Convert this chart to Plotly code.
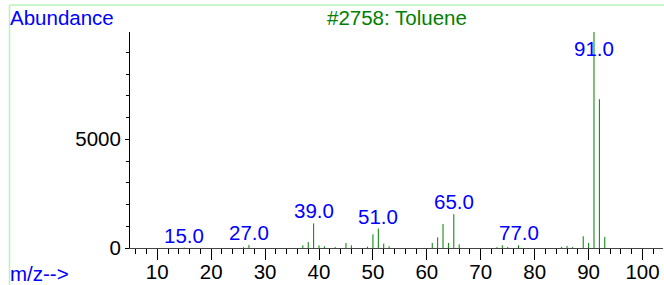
import plotly.graph_objects as go

# m/z values and abundances
mz = [15, 26, 27, 37, 38, 39, 40, 41, 43, 45, 46, 49, 50, 51, 52, 53,
      61, 62, 63, 64, 65, 66, 73, 74, 75, 77, 85, 86, 87, 89, 90, 91, 92, 93]
abundance = [20, 40, 140, 125, 270, 1130, 120, 80, 40, 230, 125, 60, 630, 895, 200, 80,
             230, 490, 1107, 230, 1554, 170, 40, 125, 45, 125, 50, 90, 40, 540, 230, 9935, 6845, 507]

label_mz = [15, 27, 39, 51, 65, 77, 91]
title_text = "#2758: Toluene"
y_label = "Abundance"
x_label = "m/z-->"
y_tickvals = [0, 5000]
x_tickvals = [10, 20, 30, 40, 50, 60, 70, 80, 90, 100]

X_RANGE = [4.94, 103.8]
Y_MAX = max(abundance)
FONT = "Liberation Sans, Arial, sans-serif"
FS = 20.5

xs, ys = [], []
for m, v in zip(mz, abundance):
    xs += [m, m, None]
    ys += [0, v, None]

fig = go.Figure()
fig.add_trace(go.Scatter(x=xs, y=ys, mode="lines",
                         line=dict(color="#008000", width=1),
                         hoverinfo="skip", showlegend=False))

lookup = dict(zip(mz, abundance))
for m in label_mz:
    v = lookup[m]
    if v > Y_MAX * 0.8:
        fig.add_annotation(x=m, y=Y_MAX, text=f"{m:.1f}", showarrow=False,
                           yanchor="top", xanchor="center", yshift=-3,
                           font=dict(color="#0000FF", size=FS, family=FONT))
    else:
        fig.add_annotation(x=m, y=v, text=f"{m:.1f}", showarrow=False,
                           yanchor="bottom", xanchor="center", yshift=-1,
                           font=dict(color="#0000FF", size=FS, family=FONT))

W, H = 664, 285
ML, MR, MT, MB = 130, 1, 32, 37
pw = W - ML - MR
ph = H - MT - MB

def px_x(p):
    return (p - ML) / pw

def px_y(p):
    return (H - MB - p) / ph

frame = "#b8f4b8"
fig.add_shape(type="line", xref="paper", yref="paper",
              x0=px_x(9.5), x1=px_x(9.5), y0=px_y(5), y1=px_y(290),
              line=dict(color=frame, width=1.5))
fig.add_shape(type="line", xref="paper", yref="paper",
              x0=px_x(9.5), x1=px_x(670), y0=px_y(5), y1=px_y(5),
              line=dict(color=frame, width=1.5))

fig.add_annotation(xref="paper", yref="paper", x=px_x(8), y=px_y(4),
                   text=y_label, showarrow=False, xanchor="left", yanchor="top",
                   font=dict(color="#0000FF", size=FS, family=FONT))
fig.add_annotation(xref="paper", yref="paper", x=px_x(8), y=px_y(287),
                   text=x_label, showarrow=False, xanchor="left", yanchor="bottom",
                   font=dict(color="#0000FF", size=FS, family=FONT))
fig.add_annotation(xref="paper", yref="paper", x=0.5, y=px_y(4),
                   text=title_text, showarrow=False, xanchor="center", yanchor="top",
                   font=dict(color="#008000", size=FS, family=FONT))

fig.update_layout(
    width=W, height=H,
    margin=dict(l=ML, r=MR, t=MT, b=MB, pad=0, autoexpand=False),
    paper_bgcolor="white", plot_bgcolor="white",
    font=dict(family=FONT, size=FS, color="black"),
    xaxis=dict(range=X_RANGE, tickvals=x_tickvals, ticks="outside", ticklen=11,
               tickcolor="black", showline=True, linecolor="#444444", linewidth=1,
               showgrid=False, zeroline=False, automargin=False, ticklabelstandoff=-6,
               minor=dict(dtick=2, tick0=0, ticks="outside", ticklen=5, tickcolor="black", showgrid=False),
               tickfont=dict(size=FS, color="black")),
    yaxis=dict(range=[0, Y_MAX], tickvals=y_tickvals, ticks="outside", ticklen=4,
               tickcolor="black", showline=True, linecolor="black", linewidth=1,
               showgrid=False, zeroline=False, automargin=False,
               minor=dict(dtick=1000, tick0=0, ticks="outside", ticklen=3, tickcolor="black", showgrid=False),
               tickfont=dict(size=FS, color="black")),
)

fig.write_html("out.html", config={"displayModeBar": False},
               post_script="document.body.style.margin='0';document.body.style.overflow='hidden';")
